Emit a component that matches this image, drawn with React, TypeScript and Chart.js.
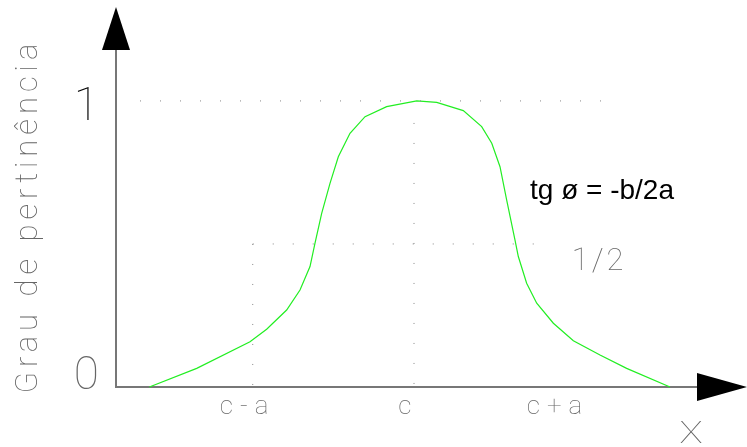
import React, { useEffect, useRef } from "react";
import { Chart, registerables } from "chart.js";

Chart.register(...registerables);

// Membership curve (x in units of a, centred on c; y = degree of membership)
const curveX = [-1.654, -1.358, -1.025, -0.921, -0.796, -0.7125, -0.65, -0.619, -0.577, -0.525, -0.473, -0.4, -0.306, -0.171, 0.017, 0.142, 0.308, 0.423, 0.486, 0.5375, 0.579, 0.631, 0.652, 0.704, 0.767, 0.871, 0.996, 1.1625, 1.329, 1.6];
const curveY = [0, 0.065, 0.158, 0.202, 0.269, 0.339, 0.421, 0.502, 0.607, 0.712, 0.805, 0.887, 0.945, 0.98, 1.0, 0.995, 0.966, 0.91, 0.852, 0.77, 0.654, 0.514, 0.456, 0.363, 0.293, 0.223, 0.162, 0.112, 0.065, 0];

// Dotted guide lines
const guideTopX = [-1.7125, 1.181];
const guideTopY = [1, 1];
const guideHalfX = [-1.008, 0.829];
const guideHalfY = [0.5, 0.5];
const guideLeftX = [-1.008, -1.008];
const guideLeftY = [0.5, 0];
const guideCenterX = [0, 0];
const guideCenterY = [0.923, 0];

// Ticks
const xTickValues = [-1.04, -0.035, 0.9];
const xTickLabels = ["c-a", "c", "c+a"];
const yTickValues = [0, 1];
const yTickLabels: (string | string[])[] = [["0", ""], "1"];
const yTickColors = ["#666666", "#000000"];

const yTitle = "Grau de pertinência";
const xName = "X";
const halfLabel = "1/2";
const formula = "tg ø = -b/2a";

const toPts = (xs: number[], ys: number[]) => xs.map((x, i) => ({ x, y: ys[i] }));

const CAD = "Roboto";

const decorPlugin = {
  id: "decor",
  beforeDraw(chart: any) {
    chart.ctx.letterSpacing = "7px";
  },
  beforeDatasetsDraw(chart: any) {
    chart.ctx.letterSpacing = "0px";
  },
  afterDraw(chart: any) {
    const { ctx, chartArea, scales } = chart;
    const xs = scales.x;
    const ys = scales.y;
    ctx.save();
    ctx.letterSpacing = "0px";
    // arrows
    ctx.fillStyle = "#000";
    const ax = chartArea.left;
    ctx.beginPath();
    ctx.moveTo(ax, 7);
    ctx.lineTo(ax - 14, chartArea.top);
    ctx.lineTo(ax + 14, chartArea.top);
    ctx.closePath();
    ctx.fill();
    const ay = chartArea.bottom;
    ctx.beginPath();
    ctx.moveTo(747, ay);
    ctx.lineTo(chartArea.right, ay - 14);
    ctx.lineTo(chartArea.right, ay + 14);
    ctx.closePath();
    ctx.fill();

    // 1/2 label
    ctx.fillStyle = "#666";
    ctx.font = `100 31px ${CAD}`;
    ctx.letterSpacing = "3px";
    ctx.textAlign = "left";
    ctx.textBaseline = "alphabetic";
    ctx.fillText(halfLabel, xs.getPixelForValue(0.986), ys.getPixelForValue(0.5) + 26);

    // X label
    ctx.save();
    ctx.letterSpacing = "0px";
    ctx.textAlign = "center";
    ctx.translate(691, 443);
    ctx.scale(1.25, 1);
    ctx.fillText(xName, 0, 0);
    ctx.restore();

    // formula
    ctx.fillStyle = "#000";
    ctx.letterSpacing = "0px";
    ctx.font = `28px "Liberation Sans", Arial, sans-serif`;
    ctx.textAlign = "left";
    ctx.fillText(formula, 530, 199);

    // y title
    ctx.save();
    ctx.translate(37, 216);
    ctx.rotate(-Math.PI / 2);
    ctx.fillStyle = "#666";
    ctx.font = `100 31px ${CAD}`;
    ctx.letterSpacing = "5px";
    ctx.textAlign = "center";
    ctx.textBaseline = "alphabetic";
    ctx.fillText(yTitle, 0, 0);
    ctx.restore();
    ctx.restore();
  },
};

const dotted = (data: any[]) => ({
  data,
  borderColor: "#888888",
  borderWidth: 1,
  borderDash: [1, 19],
  borderCapStyle: "butt" as const,
  pointRadius: 0,
  tension: 0,
  clip: false as any,
});

export default function App() {
  const ref = useRef<HTMLCanvasElement | null>(null);
  useEffect(() => {
    document.body.style.margin = "0";
    const canvas = ref.current;
    if (!canvas) return;
    const chart = new Chart(canvas, {
      type: "line",
      data: {
        datasets: [
          dotted(toPts(guideTopX, guideTopY)),
          dotted(toPts(guideHalfX, guideHalfY)),
          dotted(toPts(guideLeftX, guideLeftY)),
          dotted(toPts(guideCenterX, guideCenterY)),
          {
            data: toPts(curveX, curveY),
            borderColor: "#22ee22",
            borderWidth: 1.2,
            pointRadius: 0,
            tension: 0,
            clip: false as any,
          },
        ],
      },
      options: {
        animation: false,
        responsive: false,
        devicePixelRatio: 1,
        events: [],
        layout: { padding: { top: 50, right: 50, left: 0, bottom: 0 } },
        plugins: { legend: { display: false }, tooltip: { enabled: false } },
        scales: {
          x: {
            type: "linear",
            min: -1.8625,
            max: 1.76875,
            afterFit: (s: any) => {
              s.height = 60;
            },
            afterBuildTicks: (s: any) => {
              s.ticks = xTickValues.map((v) => ({ value: v }));
            },
            grid: { display: false, drawTicks: false },
            border: { display: true, color: "#777777", width: 2 },
            ticks: {
              autoSkip: false,
              maxRotation: 0,
              padding: 5,
              color: "#666666",
              font: { family: CAD, size: 26, weight: 100 as any },
              callback: (_v: any, i: number) => xTickLabels[i],
            },
          },
          y: {
            type: "linear",
            min: 0,
            max: 1.178,
            afterFit: (s: any) => {
              s.width = 116;
            },
            afterBuildTicks: (s: any) => {
              s.ticks = yTickValues.map((v) => ({ value: v }));
            },
            grid: { display: false, drawTicks: false },
            border: { display: true, color: "#777777", width: 2 },
            ticks: {
              padding: 10,
              labelOffset: 8,
              color: (c: any) => yTickColors[c.index] || "#666",
              font: { family: CAD, size: 46, weight: 100 as any, lineHeight: 0.78 },
              callback: (_v: any, i: number) => yTickLabels[i],
            },
          },
        },
      },
      plugins: [decorPlugin],
    });
    return () => chart.destroy();
  }, []);
  return (
    <div style={{ width: 747, height: 447 }}>
      <canvas ref={ref} width={747} height={447} style={{ display: "block" }} />
    </div>
  );
}
